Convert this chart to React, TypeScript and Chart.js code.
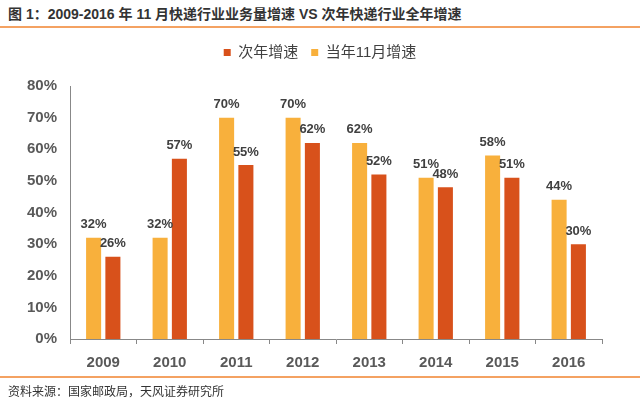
import React, { useEffect, useRef } from "react";
import { Chart, registerables } from "chart.js";

Chart.register(...registerables);

const categories = ["2009", "2010", "2011", "2012", "2013", "2014", "2015", "2016"];
const novGrowth = [32, 32, 70, 70, 62, 51, 58, 44];
const nextYearGrowth = [26, 57, 55, 62, 52, 48, 51, 30];
const seriesNames = ["当年11月增速", "次年增速"];
const titleText = "图 1：2009-2016 年 11 月快递行业业务量增速 VS 次年快递行业全年增速";
const sourceText = "资料来源：国家邮政局，天风证券研究所";

const YELLOW = "#F8B03C";
const RED = "#D8511B";
const LINE = "#F4A262";
const FONT = "'Liberation Sans', 'Noto Sans CJK SC', sans-serif";

const valueLabels = {
  id: "valueLabels",
  afterDatasetsDraw(chart: any) {
    const ctx = chart.ctx;
    ctx.save();
    ctx.font = `bold 13px ${FONT}`;
    ctx.fillStyle = "#404040";
    ctx.textAlign = "center";
    ctx.textBaseline = "alphabetic";
    chart.data.datasets.forEach((ds: any, di: number) => {
      const meta = chart.getDatasetMeta(di);
      meta.data.forEach((el: any, i: number) => {
        ctx.fillText(`${ds.data[i]}%`, el.x, el.y - 9.5);
      });
    });
    ctx.restore();
  },
};

// centre the legend over the same point as the original (slightly right of the canvas middle)
const legendShift = {
  id: "legendShift",
  afterLayout(chart: any) {
    if (chart.legend) {
      chart.legend.left += 19;
      chart.legend.right += 19;
    }
  },
};

export default function App() {
  const ref = useRef<HTMLCanvasElement | null>(null);

  useEffect(() => {
    document.body.style.margin = "0";
    const chart = new Chart(ref.current as HTMLCanvasElement, {
      type: "bar",
      data: {
        labels: categories,
        datasets: [
          { label: seriesNames[0], data: novGrowth, backgroundColor: YELLOW },
          { label: seriesNames[1], data: nextYearGrowth, backgroundColor: RED },
        ],
      },
      options: {
        responsive: false,
        animation: false,
        layout: { padding: { left: 0, right: 38, top: 32, bottom: 0 } },
        datasets: {
          bar: { categoryPercentage: 0.58, barPercentage: 0.78 },
        } as any,
        plugins: {
          legend: {
            position: "top",
            reverse: true,
            labels: {
              boxWidth: 7,
              boxHeight: 7,
              padding: 13,
              color: "#404040",
              font: { size: 15, family: FONT },
            },
          },
          title: {
            display: true,
            text: "",
            position: "top",
            weight: 500,
            font: { size: 10 },
            padding: { top: 0, bottom: 4 },
          } as any,
          tooltip: { enabled: false },
        },
        scales: {
          x: {
            grid: { display: true, drawOnChartArea: false, drawTicks: true, tickLength: 5, color: "#888" },
            border: { display: true, color: "#888" },
            ticks: { color: "#595959", font: { size: 15, weight: "bold", family: FONT }, padding: 10 },
            afterFit: (s: any) => { s.height = 68; },
          },
          y: {
            min: 0,
            max: 80,
            grid: { display: false, drawTicks: false },
            border: { display: true, color: "#888" },
            ticks: {
              stepSize: 10,
              color: "#595959",
              padding: 13,
              font: { size: 15, weight: "bold", family: FONT },
              callback: (v: any) => `${v}%`,
            },
            afterFit: (s: any) => { s.width = 70; },
          },
        },
      },
      plugins: [valueLabels, legendShift],
    });
    return () => chart.destroy();
  }, []);

  return (
    <div style={{ position: "relative", width: 640, height: 407, background: "#fff", overflow: "hidden" }}>
      <div
        style={{
          position: "absolute", left: 8, top: 4, fontSize: 14, fontWeight: "bold",
          color: "#333", fontFamily: FONT, whiteSpace: "nowrap", lineHeight: "20px",
        }}
      >
        {titleText}
      </div>
      <div style={{ position: "absolute", left: 0, top: 26, width: 640, height: 2, background: LINE }} />
      <canvas ref={ref} width={640} height={407} style={{ position: "absolute", left: 0, top: 0 }} />
      <div style={{ position: "absolute", left: 0, top: 376, width: 640, height: 2, background: LINE }} />
      <div
        style={{
          position: "absolute", left: 8, top: 384, fontSize: 12, color: "#333",
          fontFamily: FONT, whiteSpace: "nowrap", lineHeight: "16px",
        }}
      >
        {sourceText}
      </div>
    </div>
  );
}
